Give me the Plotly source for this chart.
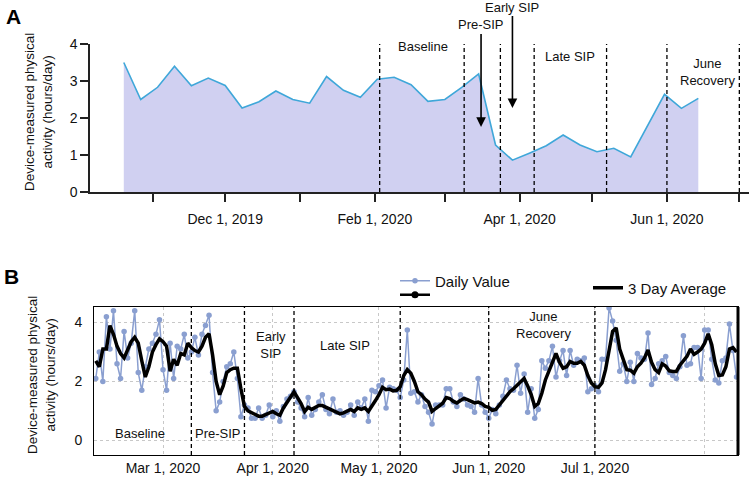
import plotly.graph_objects as go
import pandas as pd

W, H = 749, 477
FONT = "Arial, Liberation Sans, sans-serif"

# ---------------- Panel A: weekly averages ----------------
weekly_start = "2019-10-20"
weekly_values = [3.5, 2.5, 2.83, 3.4, 2.87, 3.08, 2.88, 2.27, 2.44, 2.73,
                 2.5, 2.4, 3.12, 2.75, 2.56, 3.05, 3.1, 2.9, 2.45, 2.5,
                 2.83, 3.19, 1.27, 0.86, 1.05, 1.25, 1.54, 1.27, 1.09, 1.18,
                 0.95, 1.8, 2.64, 2.26, 2.53]
weekly_dates = pd.date_range(weekly_start, periods=len(weekly_values), freq="7D")

phase_bounds_a = ["2020-02-03", "2020-03-09", "2020-03-24", "2020-04-07",
                  "2020-05-07", "2020-06-01", "2020-07-01"]
ticks_a = ["2019-11-01", "2019-12-01", "2020-01-01", "2020-02-01", "2020-03-01",
           "2020-04-01", "2020-05-01", "2020-06-01", "2020-07-01"]
ticktext_a = ["", "Dec 1, 2019", "", "Feb 1, 2020", "", "Apr 1, 2020", "",
              "Jun 1, 2020", ""]

# ---------------- Panel B: daily values ----------------
daily_start = "2020-02-11"
daily_values = [
    2.1, 3.0, 2.0, 4.2, 3.1, 4.4, 2.6, 2.1, 3.7, 2.8, 3.3, 4.4, 2.3, 1.7, 2.5, 3.1, 3.3, 3.6, 4.1,
    2.4, 1.7, 3.3, 2.1, 3.2, 3.1, 3.6, 2.8, 3.0, 3.5, 2.9, 3.6, 3.9, 4.25, 2.3, 1.0, 1.3, 2.0,
    2.5, 2.6, 3.0, 2.1, 0.8, 1.2,
    1.1, 0.75, 0.75, 1.1, 0.75, 0.85, 1.2, 0.8, 1.0, 0.65, 1.15, 1.4, 1.5, 1.65, 1.3, 1.1, 0.8,
    1.45, 0.85, 1.05, 1.3, 1.55, 1.05, 0.9, 1.4, 0.95, 1.0, 0.85, 0.95, 1.2, 0.85, 1.3, 1.1,
    1.4, 0.65, 1.7, 1.65, 1.85, 2.05, 1.1, 1.8, 1.75, 1.7, 1.45, 2.05, 3.75, 1.6, 1.65, 1.3,
    1.55, 1.15, 0.95, 0.55, 1.2, 1.2, 1.2, 1.75, 1.75, 1.3, 1.15, 1.55, 1.4, 1.2, 1.15, 0.95,
    2.1, 1.2, 0.95, 0.75, 1.05,
    0.9, 1.2, 1.5, 2.05, 1.75, 1.7, 2.55, 1.6, 2.25, 0.95, 1.75, 0.75, 1.05, 2.7, 2.45, 2.7,
    3.2, 2.15, 2.7, 3.05, 2.2, 3.05, 2.55, 2.75, 2.7, 2.8, 1.65, 1.75, 1.85, 1.65, 2.75, 2.75,
    4.5, 4.05, 3.4, 2.35,
    2.6, 2.0, 2.65, 2.0, 2.95, 2.8, 2.75, 3.65, 1.9, 2.1, 2.6, 2.7, 2.85, 2.3, 2.2, 2.1, 2.5,
    3.55, 2.55, 2.6, 3.15, 3.15, 2.1, 3.75, 3.75, 2.75, 2.05, 1.95, 2.7, 2.8, 3.95, 3.05, 2.15,
]
avg_values = [
    2.7, 2.5, 3.1, 3.1, 3.9, 3.6, 3.2, 2.95, 2.8, 3.1, 3.35, 3.5, 3.3, 2.7, 2.15, 2.5, 3.0, 3.25, 3.45,
    3.35, 3.2, 2.35, 2.75, 2.55, 2.95, 2.9, 3.3, 3.15, 3.05, 3.0, 3.2, 3.5, 3.62, 2.9, 2.0, 1.55,
    1.85, 2.3, 2.4, 2.45, 2.45, 1.75, 1.15,
    1.0, 0.95, 0.88, 0.82, 0.82, 0.88, 0.95, 0.98, 0.9, 0.85, 1.1, 1.3, 1.5, 1.65, 1.45, 1.25,
    0.98, 1.12, 1.05, 1.12, 1.18, 1.18, 1.12, 1.05, 1.0, 0.93, 0.9, 0.93, 0.98, 1.05, 0.98, 1.1, 1.05,
    1.1, 0.98, 1.15, 1.35, 1.55, 1.8, 1.72, 1.74, 1.68, 1.7, 1.82, 2.2, 2.4, 2.28, 2.0, 1.65,
    1.55, 1.4, 1.3, 0.98, 1.08, 1.18, 1.26, 1.45, 1.42, 1.32, 1.27, 1.35, 1.42, 1.38, 1.32, 1.27,
    1.3, 1.25, 1.15, 1.12, 1.02,
    1.05, 1.2, 1.35, 1.5, 1.65, 1.75, 1.88, 2.0, 2.1, 1.85, 1.55, 1.15, 1.25, 1.6, 2.05, 2.35,
    2.65, 2.95, 2.65, 2.45, 2.5, 2.68, 2.62, 2.62, 2.68, 2.55, 2.2, 1.95, 1.82, 1.8, 1.95, 2.4,
    3.05, 3.7, 3.82, 3.1,
    2.75, 2.4, 2.38, 2.28, 2.5, 2.62, 2.8, 3.07, 2.65, 2.4, 2.3, 2.6, 2.52, 2.36, 2.34, 2.34,
    2.55, 2.72, 2.85, 3.1, 2.92, 3.0, 3.1, 3.3, 3.62, 3.25, 2.6, 2.2, 2.22, 2.5, 3.1, 3.15, 3.0,
]
daily_dates = pd.date_range(daily_start, periods=len(daily_values), freq="D")

phase_bounds_b = ["2020-03-09", "2020-03-24", "2020-04-07", "2020-05-07",
                  "2020-06-01", "2020-07-01"]
ticks_b = ["2020-03-01", "2020-04-01", "2020-05-01", "2020-06-01", "2020-07-01", "2020-08-01"]
ticktext_b = ["Mar 1, 2020", "Apr 1, 2020", "May 1, 2020", "Jun 1, 2020", "Jul 1, 2020", ""]


def px(x):
    return x / W


def py(y):
    return 1 - y / H


fig = go.Figure()

# Panel A area
fig.add_trace(go.Scatter(
    x=weekly_dates, y=weekly_values, mode="lines",
    line=dict(color="#3fa7d9", width=1.6),
    fill="tozeroy", fillcolor="rgba(208,208,241,1)",
    showlegend=False, xaxis="x", yaxis="y", name="Weekly"))

# Panel B
fig.add_trace(go.Scatter(
    x=daily_dates, y=daily_values, mode="lines+markers",
    line=dict(color="#8a9fd0", width=1.5),
    marker=dict(color="#8a9fd0", size=5.5),
    name="Daily Value", xaxis="x2", yaxis="y2", legend="legend"))
fig.add_trace(go.Scatter(
    x=[None], y=[None], mode="lines+markers",
    line=dict(color="black", width=2.5), marker=dict(color="black", size=7),
    name=" ", xaxis="x2", yaxis="y2", legend="legend2"))
fig.add_trace(go.Scatter(
    x=daily_dates, y=avg_values, mode="lines",
    line=dict(color="black", width=3.5),
    name="3 Day Average", xaxis="x2", yaxis="y2", legend="legend3"))

DASH = "4px,3px"
shapes = []
for d in phase_bounds_a:
    shapes.append(dict(type="line", xref="x", yref="y", x0=d, x1=d, y0=0, y1=4.05,
                       line=dict(color="black", width=1.3, dash=DASH)))
for d in phase_bounds_b:
    shapes.append(dict(type="line", xref="x2", yref="y2 domain", x0=d, x1=d, y0=0, y1=1,
                       line=dict(color="black", width=1.3, dash=DASH)))
shapes.append(dict(type="line", xref="x2 domain", yref="y2 domain", x0=1, x1=1, y0=0, y1=1,
                   line=dict(color="black", width=3)))

ann_font = dict(family=FONT, size=13, color="#111")


def label(text, x, y, **kw):
    d = dict(text=text, x=px(x), y=py(y), xref="paper", yref="paper", showarrow=False,
             xanchor="center", yanchor="middle", font=ann_font)
    d.update(kw)
    return d


annotations = [
    label("<b>A</b>", 13, 16, font=dict(family=FONT, size=21, color="black")),
    label("<b>B</b>", 11, 276, font=dict(family=FONT, size=21, color="black")),
    label("Device-measured physical<br>activity (hours/day)", 39, 112, textangle=-90,
          font=dict(family=FONT, size=13.5, color="#111")),
    label("Device-measured physical<br>activity (hours/day)", 41, 375, textangle=-90,
          font=dict(family=FONT, size=13.5, color="#111")),
    # panel A labels
    label("Baseline", 423, 46),
    label("Late SIP", 570, 57),
    label("June<br>Recovery", 707, 72),
    dict(text="Pre-SIP", x="2020-03-16", y=1.76, xref="x", yref="y", showarrow=True,
         ax=0, ay=-102, arrowhead=2, arrowsize=1.2, arrowwidth=1.6, arrowcolor="black",
         standoff=0, font=ann_font),
    dict(text="Early SIP", x="2020-03-29", y=2.27, xref="x", yref="y", showarrow=True,
         ax=0, ay=-101, arrowhead=2, arrowsize=1.2, arrowwidth=1.6, arrowcolor="black",
         standoff=0, font=ann_font),
    # panel B labels
    label("Baseline", 140, 433),
    label("Pre-SIP", 218, 433),
    label("Early<br>SIP", 271, 345),
    label("Late SIP", 345, 345),
    label("June<br>Recovery", 543, 325),
]

tick_font = dict(family=FONT, size=14, color="#111")
leg_font = dict(family=FONT, size=15, color="#111")
fig.update_layout(
    width=W, height=H, margin=dict(l=0, r=0, t=0, b=0),
    paper_bgcolor="white", plot_bgcolor="white",
    font=dict(family=FONT, size=13, color="#111"),
    xaxis=dict(domain=[px(90), 1.0], anchor="y", type="date",
               range=["2019-10-06", "2020-07-05"],
               tickvals=ticks_a, ticktext=ticktext_a, ticks="outside", ticklen=8,
               tickwidth=1.5, tickcolor="#222", showline=True, linecolor="#222", linewidth=1.5,
               showgrid=False, zeroline=False, tickfont=tick_font, automargin=False,
               ticklabelstandoff=5),
    yaxis=dict(domain=[py(192), py(44)], anchor="x", range=[0, 4],
               tickvals=[0, 1, 2, 3, 4], ticks="outside", ticklen=8, tickwidth=1.5,
               tickcolor="#222", showline=True, linecolor="#222", linewidth=1.5,
               showgrid=False, zeroline=False, tickfont=tick_font, automargin=False),
    xaxis2=dict(domain=[px(94), px(738)], anchor="y2", type="date",
                range=["2020-02-10 12:00", "2020-08-10 10:00"],
                tickvals=ticks_b, ticktext=ticktext_b, ticks="",
                showline=True, mirror=True, linecolor="black", linewidth=1,
                showgrid=True, gridcolor="#c8c8c8", griddash="dot", gridwidth=1,
                zeroline=False, tickfont=tick_font, automargin=False),
    yaxis2=dict(domain=[py(455), py(307)], anchor="x2", range=[-0.5, 4.53],
                tickvals=[0, 2, 4], ticks="",
                showline=True, mirror=True, linecolor="black", linewidth=1,
                showgrid=True, gridcolor="#c8c8c8", griddash="dot", gridwidth=1,
                zeroline=False, tickfont=tick_font, automargin=False, ticklabelstandoff=8),
    legend=dict(x=px(395), y=py(281), xanchor="left", yanchor="middle",
                bgcolor="rgba(0,0,0,0)", font=leg_font, itemwidth=30),
    legend2=dict(x=px(395), y=py(295), xanchor="left", yanchor="middle",
                 bgcolor="rgba(0,0,0,0)", font=leg_font, itemwidth=30),
    legend3=dict(x=px(588), y=py(288), xanchor="left", yanchor="middle",
                 bgcolor="rgba(0,0,0,0)", font=leg_font, itemwidth=30),
    shapes=shapes, annotations=annotations,
)

fig.write_html("out.html", config={"displayModeBar": False},
               post_script="document.body.style.margin='0';")
